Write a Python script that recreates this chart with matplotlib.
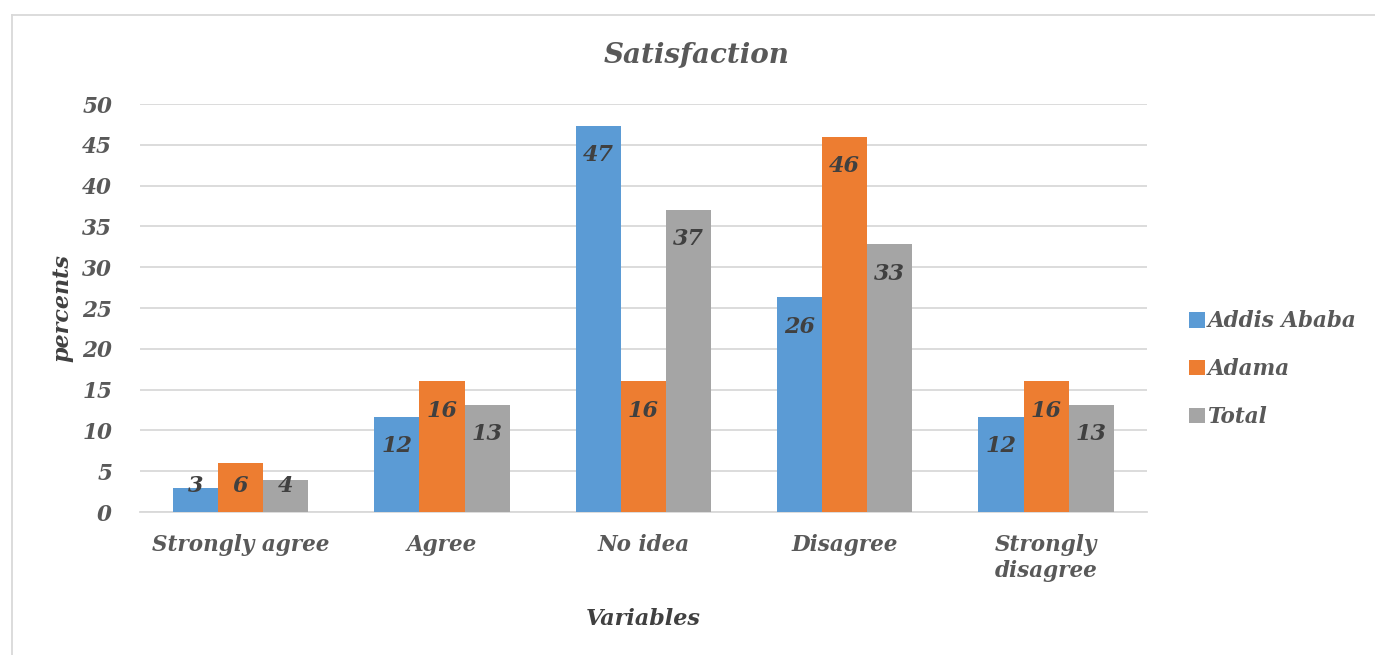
import matplotlib.pyplot as plt
import numpy as np
from matplotlib.lines import Line2D

categories = ["Strongly agree", "Agree", "No idea", "Disagree", "Strongly\ndisagree"]
addis = [2.9, 11.7, 47.3, 26.3, 11.7]
adama = [6.0, 16.0, 16.0, 46.0, 16.0]
total = [3.9, 13.1, 37.0, 32.8, 13.1]
series_names = ["Addis Ababa", "Adama", "Total"]
colors = ["#5b9bd5", "#ed7d31", "#a5a5a5"]

font = "DejaVu Serif"
tick_col = "#595959"
lab_col = "#404040"

fig = plt.figure(figsize=(13.75, 6.55), dpi=100)
ax = fig.add_axes([0.1018, 0.2183, 0.7322, 0.6229])

x = np.arange(len(categories))
w = 0.224
for i, (vals, name, c) in enumerate(zip([addis, adama, total], series_names, colors)):
    pos = x + (i - 1) * w
    bars = ax.bar(pos, vals, width=w, color=c, label=name, zorder=3)
    for b, v in zip(bars, vals):
        h = b.get_height()
        ypos = max(h - 3.6, 3.2)
        ax.text(b.get_x() + b.get_width() / 2, ypos, str(int(round(v))),
                ha="center", va="center", fontsize=16, fontweight="bold",
                fontstyle="italic", family=font, color=lab_col, zorder=4)

ax.set_xlim(-0.5, len(categories) - 0.5)
ax.set_ylim(0, 50)
ax.set_yticks(np.arange(0, 51, 5))
ax.yaxis.grid(True, color="#d9d9d9", linewidth=1.3, zorder=0)
for s in ["top", "right", "left"]:
    ax.spines[s].set_visible(False)
ax.spines["bottom"].set_color("#d9d9d9")
ax.spines["bottom"].set_linewidth(1.3)
ax.tick_params(axis="x", length=0, pad=16)
ax.set_xticks(x)
ax.set_xticklabels(categories)
for lbl in ax.get_xticklabels() + ax.get_yticklabels():
    lbl.set_family(font)
    lbl.set_fontsize(15.5)
    lbl.set_fontweight("bold")
    lbl.set_fontstyle("italic")
    lbl.set_color(tick_col)
ax.tick_params(axis="y", length=0, pad=20)

fig.text(697 / 1375, 1 - 55 / 655, "Satisfaction", family=font, fontsize=20,
         fontweight="bold", fontstyle="italic", color=tick_col,
         ha="center", va="center")
ax.set_ylabel("percents", family=font, fontsize=16, fontweight="bold",
              fontstyle="italic", color=lab_col, labelpad=6)
ax.set_xlabel("Variables", family=font, fontsize=16, fontweight="bold",
              fontstyle="italic", color=lab_col, labelpad=19)

leg = ax.legend(loc="center left", bbox_to_anchor=(1.042, 0.35), frameon=False,
                borderaxespad=0, borderpad=0,
                prop={"family": font, "size": 15.5, "weight": "bold", "style": "italic"},
                handlelength=0.72, handleheight=0.72, handletextpad=0.15, labelspacing=1.2)
for t in leg.get_texts():
    t.set_color(tick_col)

# chart frame
fig.add_artist(Line2D([12 / 1375, 12 / 1375], [0, 1 - 15 / 655], color="#d9d9d9", lw=1.3))
fig.add_artist(Line2D([12 / 1375, 1], [1 - 15 / 655, 1 - 15 / 655], color="#d9d9d9", lw=1.3))

fig.savefig("out.png", dpi=100)
